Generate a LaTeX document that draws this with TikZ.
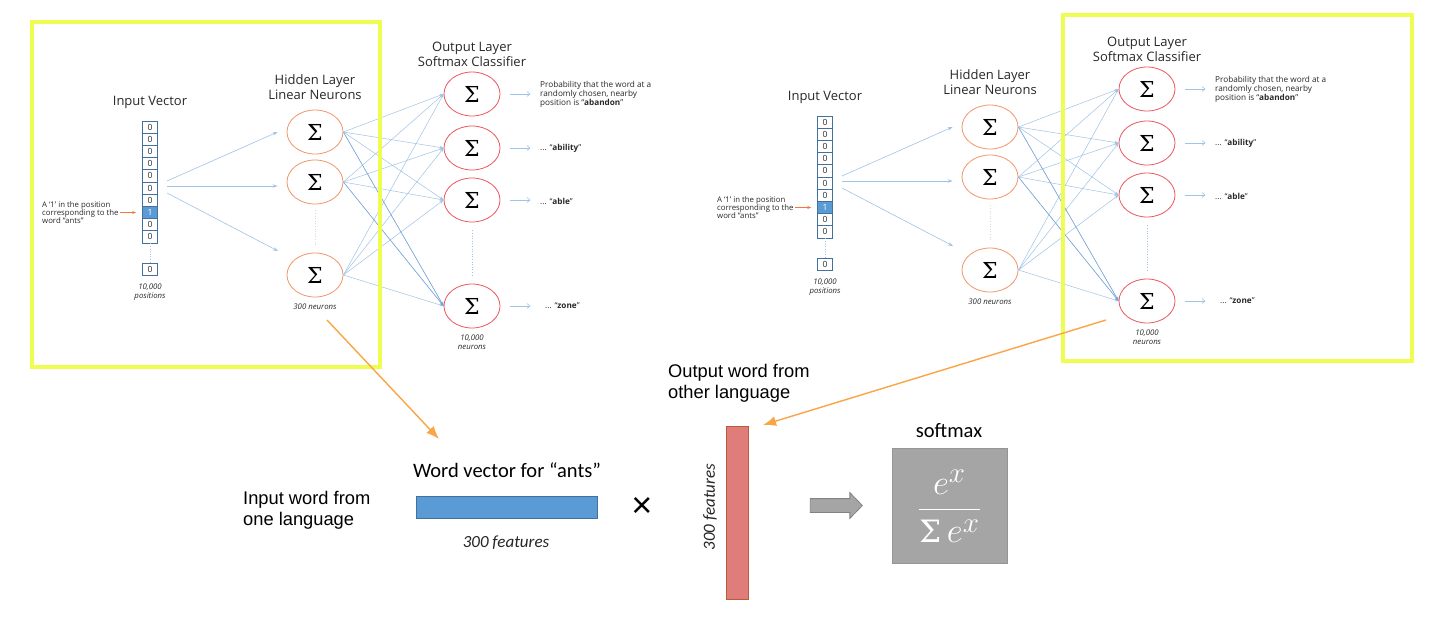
\documentclass[tikz,border=0pt]{standalone}
\usepackage[no-math]{fontspec}
\usepackage{amsmath}
\setmainfont{Open Sans}
\newfontfamily\osf{Open Sans}
\newfontfamily\carf{Carlito}
\newfontfamily\arf{Liberation Sans}
\newfontfamily\sigf{DejaVu Serif}
\usetikzlibrary{shapes.geometric,shapes.arrows,arrows.meta}

\definecolor{ybox}{RGB}{238,253,80}
\definecolor{oarrow}{RGB}{250,165,70}
\definecolor{hidc}{RGB}{240,150,105}
\definecolor{outc}{RGB}{238,85,95}
\definecolor{lblue}{RGB}{160,195,232}
\definecolor{dblue}{RGB}{120,165,215}
\definecolor{cellc}{RGB}{65,113,156}
\definecolor{vecblue}{RGB}{91,155,213}
\definecolor{redbar}{RGB}{224,124,122}
\definecolor{redbd}{RGB}{180,95,55}
\definecolor{greyf}{RGB}{165,165,165}
\definecolor{greyd}{RGB}{130,130,130}
\definecolor{anno}{RGB}{240,120,60}
\definecolor{txt}{RGB}{40,40,40}

\tikzset{
  cell/.style={draw=cellc, line width=0.7pt, minimum width=15pt, minimum height=12.2pt,
    inner sep=0pt, font=\osf\fontsize{8.5}{9}\selectfont, text=txt},
  onecell/.style={cell, fill=vecblue, text=white},
  hid/.style={ellipse, draw=hidc, line width=0.8pt, minimum width=56pt, minimum height=44pt,
    inner sep=0pt, font=\sigf\fontsize{22}{22}\selectfont},
  outn/.style={hid, draw=outc},
  ttl/.style={font=\osf\fontsize{13}{14.7}\selectfont, align=center, text=txt, inner sep=0pt},
  smalltxt/.style={font=\osf\fontsize{7.8}{8.3}\selectfont, align=left, text=txt, inner sep=0pt},
  probtxt/.style={font=\osf\fontsize{8.2}{9}\selectfont, align=left, text=txt, inner sep=0pt},
  note/.style={font=\osf\itshape\fontsize{7.8}{9}\selectfont, align=center, text=txt, inner sep=0pt},
  dotline/.style={lblue, dotted, line width=0.6pt},
  inarrow/.style={lblue, line width=0.6pt, -{Stealth[length=5pt,width=3.5pt]}},
  hoedge/.style={lblue, line width=0.5pt, -{Stealth[length=4pt,width=3pt]}},
  hoedged/.style={dblue, line width=0.5pt, -{Stealth[length=4pt,width=3pt]}},
  outarrow/.style={lblue, line width=0.6pt, -{Straight Barb[length=3pt,width=5pt]}},
  annarrow/.style={anno, line width=0.8pt, -{Stealth[length=4pt,width=3pt]}},
  bigarrow/.style={oarrow, line width=1.4pt, -{Latex[length=13pt,width=10pt]}},
  yframe/.style={draw=ybox, line width=3.5pt},
  ariatxt/.style={font=\arf\fontsize{18.3}{20.8}\selectfont, align=left, text=black, inner sep=0pt},
  caltxt/.style={font=\carf\fontsize{20.5}{22}\selectfont, text=black, inner sep=0pt},
  calit/.style={font=\carf\itshape\fontsize{17}{18}\selectfont, text=black!85, inner sep=0pt},
}

\newcommand{\nnpanel}[1]{%
  % input vector
  \node[ttl] (#1tin) at (150,102) {Input Vector};
  \foreach \i in {0,...,9}{%
    \ifnum\i=7
      \node[onecell] (#1c\i) at (150,{127.1+12.2*\i}) {1};
    \else
      \node[cell] (#1c\i) at (150,{127.1+12.2*\i}) {0};
    \fi}
  \node[cell] (#1cl) at (150,269) {0};
  \draw[dotline] (#1c9.south) -- (#1cl.north);
  \node[note] (#1pos) at (150,292.5) {10,000\\positions};
  \node[smalltxt, anchor=west] (#1ann) at (42,212.5) {A ‘1’ in the position\\corresponding to the\\word “ants”};
  \coordinate (#1aa) at (120,212.5);
  \draw[annarrow] (#1aa) -- ([xshift=-6pt]#1c7.west);
  % hidden layer
  \node[ttl] (#1thid) at (315,87) {Hidden Layer\\Linear Neurons};
  \node[hid] (#1h1) at (315,132) {Σ};
  \node[hid] (#1h2) at (315,182) {Σ};
  \node[hid] (#1h3) at (315,275) {Σ};
  \node[note] (#1hn) at (315,307) {300 neurons};
  \draw[dotline, black!15, shorten <=6pt, shorten >=6pt] (#1h2.south) -- (#1h3.north);
  \coordinate (#1s1) at (167,181);
  \coordinate (#1s2) at (167,186);
  \coordinate (#1s3) at (167,193);
  \coordinate (#1e3) at (278,251);
  \draw[inarrow] (#1s1) -- ([xshift=-9pt]#1h1.west);
  \draw[inarrow] (#1s2) -- ([shift={(-9pt,-4pt)}]#1h2.west);
  \draw[inarrow] (#1s3) -- (#1e3);
  % output layer
  \node[ttl] (#1tout) at (472,54) {Output Layer\\Softmax Classifier};
  \node[outn] (#1o1) at (472,94) {Σ};
  \node[outn] (#1o2) at (472,148) {Σ};
  \node[outn] (#1o3) at (472,200) {Σ};
  \node[outn] (#1o4) at (472,306) {Σ};
  \node[note] (#1on) at (472,342) {10,000\\neurons};
  \draw[dotline, shorten <=8pt, shorten >=8pt] (#1o3.south) -- (#1o4.north);
  % hidden -> output
  \foreach \a in {1,2,3}{%
    \foreach \b in {1,2,3,4}{%
      \draw[hoedge] (#1h\a.east) -- (#1o\b.west);}}
  \draw[hoedged] (#1h1.east) -- (#1o4.west);
  \draw[hoedged] (#1h2.east) -- (#1o4.west);
  % outputs
  \foreach \b in {1,2,3,4}{%
    \draw[outarrow] ([xshift=10pt]#1o\b.east) -- ++(20,0);}
  \node[probtxt, anchor=west] (#1p1) at (540,94) {Probability that the word at a\\randomly chosen, nearby\\position is “\textbf{abandon}”};
  \node[probtxt, anchor=west] (#1p2) at (540,148) {... “\textbf{ability}”};
  \node[probtxt, anchor=west] (#1p3) at (540,201) {... “\textbf{able}”};
  \node[probtxt, anchor=west] (#1p4) at (545,306) {... “\textbf{zone}”};
}

\begin{document}
\begin{tikzpicture}[x=1pt,y=-1pt]
\useasboundingbox[fill=white] (0,0) rectangle (1441,619);

\nnpanel{L}
\begin{scope}[shift={(675,-5)}]
  \nnpanel{R}
\end{scope}

% yellow frames
\node[yframe, minimum width=348pt, minimum height=345pt, inner sep=0pt] (fL) at (206,194.5) {};
\node[yframe, minimum width=349pt, minimum height=346pt, inner sep=0pt] (fR) at (1237.5,188) {};

% bottom part
\node[ariatxt, anchor=west] (inword) at (243,510.5) {Input word from\\one language};
\node[caltxt] (wvtitle) at (507,470) {Word vector for “ants”};
\node[draw=cellc, fill=vecblue, line width=0.8pt, minimum width=181pt, minimum height=22pt, inner sep=0pt] (wvec) at (506.5,507) {};
\node[calit] (wvfeat) at (506,543) {300 features};
\node[font=\arf\fontsize{36}{36}\selectfont, inner sep=0pt] (times) at (642,507) {×};
\node[draw=redbd, fill=redbar, line width=0.8pt, minimum width=22pt, minimum height=173pt, inner sep=0pt] (rvec) at (737,512.5) {};
\node[calit, rotate=90] (rvfeat) at (710,507) {300 features};
\node[ariatxt, anchor=west] (outword) at (668,383.5) {Output word from\\other language};
\node[single arrow, draw=greyd, fill=greyf, line width=0.8pt, minimum height=52pt,
  single arrow head extend=6pt, inner xsep=0pt, inner ysep=6.5pt, text height=0pt, text depth=0pt,
  single arrow tip angle=92] (garrow) at (833,505.5) {};
\node[draw=greyd!85, fill=greyf, line width=1pt, minimum width=115pt, minimum height=115pt, inner sep=0pt] (smbox) at (949.5,505.5) {};
\node[text=white, font=\fontsize{24.88}{28}\selectfont, inner sep=0pt] (formula) at (949.5,506)
  {\scalebox{1.4}{$\displaystyle\frac{e^{x}}{\mbox{\sigf\fontsize{22}{22}\selectfont Σ}\,e^{x}}$}};
\node[caltxt] (smlabel) at (949,431) {softmax};

% orange connectors
\coordinate (a1s) at (327,320);
\coordinate (a1e) at (439,439);
\coordinate (a2s) at (1106,320);
\coordinate (a2e) at (763,425);
\draw[bigarrow] (a1s) -- (a1e);
\draw[bigarrow] (a2s) -- (a2e);
\end{tikzpicture}
\end{document}
